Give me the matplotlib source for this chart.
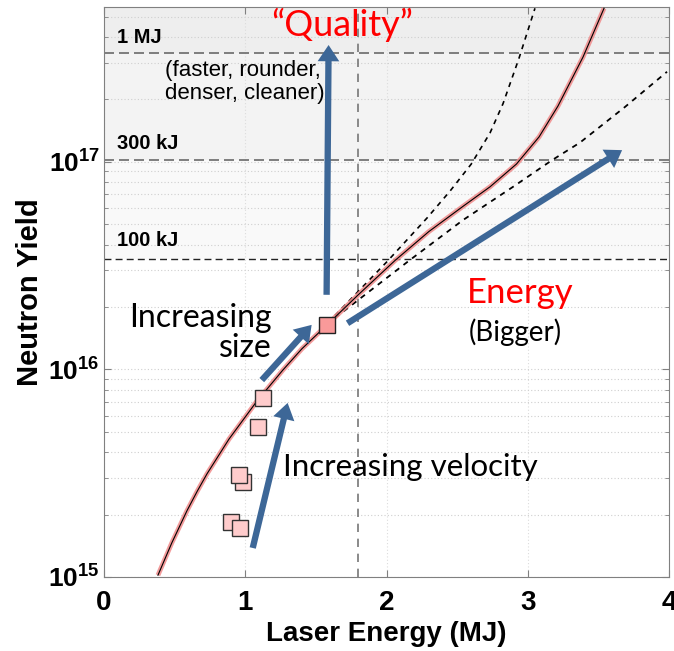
import numpy as np
import matplotlib
matplotlib.use("Agg")
import matplotlib.pyplot as plt
from matplotlib import ticker

plt.rcParams["font.family"] = ["Liberation Sans", "DejaVu Sans"]
plt.rcParams["mathtext.fontset"] = "custom"
plt.rcParams["mathtext.rm"] = "Liberation Sans"
plt.rcParams["mathtext.bf"] = "Liberation Sans:bold"

# model curve (laser energy in MJ, neutron yield)
model_E = [0.382, 0.480, 0.588, 0.660, 0.729, 0.885, 1.080, 1.267, 1.402,
           1.579, 1.800, 2.060, 2.300, 2.550, 2.733, 2.920, 3.080, 3.214,
           3.391, 3.540]
model_Y = [1.02e15, 1.46e15, 2.09e15, 2.59e15, 3.14e15, 4.62e15, 7.00e15,
           9.95e15, 1.26e16, 1.64e16, 2.29e16, 3.35e16, 4.62e16, 6.17e16,
           7.59e16, 9.77e16, 1.32e17, 1.86e17, 3.20e17, 5.50e17]

# quality-improved branch (upper) and energy-only branch (lower)
upper_E = [1.635, 2.004, 2.287, 2.450, 2.600, 2.733, 2.825, 2.938, 3.051]
upper_Y = [1.82e16, 3.31e16, 5.37e16, 7.24e16, 9.77e16, 1.38e17, 1.91e17,
           3.16e17, 5.50e17]
lower_E = [1.635, 2.166, 2.542, 2.896, 3.172, 3.370, 3.688, 3.986]
lower_Y = [1.77e16, 3.37e16, 5.25e16, 7.59e16, 1.02e17, 1.24e17, 1.84e17, 2.72e17]

# experimental shots and the design point
shot_E = [0.898, 0.961, 0.982, 0.954, 1.088, 1.124]
shot_Y = [1.84e15, 1.73e15, 2.87e15, 3.11e15, 5.29e15, 7.30e15]
design_E = [1.579]
design_Y = [1.64e16]

# fusion energy thresholds
levels = [3.4e16, 1.02e17, 3.35e17]
level_labels = ["100 kJ", "300 kJ", "1 MJ"]
level_label_Y = [4.2e16, 1.23e17, 4.0e17]
e_ref = 1.8

xticks = [0, 1, 2, 3, 4]
ymin, ymax = 1e15, 5.58e17

arrow_col = "#3D6797"
calibri = ["Lato", "DejaVu Sans"]

fig = plt.figure(figsize=(6.74, 6.51), dpi=100)
ax = fig.add_axes([104 / 674, 74 / 651, 565 / 674, 570 / 651])
ax.set_yscale("log")
ax.set_xlim(0, 4)
ax.set_ylim(ymin, ymax)

# shaded yield bands
ax.axhspan(levels[2], ymax, color="#eeeeee", zorder=0, lw=0)
ax.axhspan(levels[1], levels[2], color="#f3f3f3", zorder=0, lw=0)
ax.axhspan(levels[0], levels[1], color="#f9f9f9", zorder=0, lw=0)

ax.grid(which="both", axis="y", linestyle=(0, (1, 2)), color="#cfcfcf", lw=0.8, zorder=1)
ax.grid(which="major", axis="x", linestyle=(0, (1, 2)), color="#dcdcdc", lw=0.8, zorder=1)

ax.axvline(e_ref, color="#777777", ls=(0, (5, 4)), lw=1.2, zorder=2)
ax.axhline(levels[2], color="#6a6a6a", ls=(0, (6, 3)), lw=1.2, zorder=2)
ax.axhline(levels[1], color="#6a6a6a", ls=(0, (6, 3)), lw=1.2, zorder=2)
ax.axhline(levels[0], color="#222222", ls=(0, (5, 3)), lw=1.0, zorder=2)

for lab, yl in zip(level_labels, level_label_Y):
    ax.text(0.092, yl, lab, fontsize=14.5, fontweight="bold", va="center", ha="left")

# curves
ax.plot(upper_E, upper_Y, color="k", ls=(0, (3, 3)), lw=1.2, zorder=3)
ax.plot(lower_E, lower_Y, color="k", ls=(0, (3, 3)), lw=1.3, zorder=3)
ax.plot(model_E, model_Y, color="#f08a8a", lw=3.5, alpha=0.85, zorder=3,
        solid_capstyle="butt", solid_joinstyle="round")
ax.plot(model_E, model_Y, color="k", lw=0.8, zorder=4, solid_joinstyle="round")

ax.plot(shot_E, shot_Y, "s", ms=12, mfc="#ffcccc", mec="#333333", mew=1.0, zorder=5)
ax.plot(design_E, design_Y, "s", ms=12, mfc="#f99a9a", mec="#222222", mew=1.0, zorder=5)

# arrows
arrows = [((1.576, 2.29e16), (1.590, 3.66e17)),
          ((1.724, 1.67e16), (3.668, 1.14e17)),
          ((1.117, 8.89e15), (1.470, 1.64e16)),
          ((1.053, 1.38e15), (1.300, 6.90e15))]
for tail, tip in arrows:
    ax.annotate("", xy=tip, xytext=tail,
                arrowprops=dict(arrowstyle="simple,head_length=0.9,head_width=1.2,tail_width=0.35",
                                mutation_scale=13, color=arrow_col, lw=0,
                                shrinkA=0, shrinkB=0),
                zorder=6)

ax.text(1.685, 4.6e17, "\u201cQuality\u201d", color="red", fontsize=26,
        family=calibri, ha="center", va="center")
ax.text(0.432, 3.1e17, "(faster, rounder,\ndenser, cleaner)", fontsize=16,
        ha="left", va="top", linespacing=1.1)
ax.text(1.19, 1.5e16, "Increasing\nsize", fontsize=23, family=calibri,
        ha="right", va="center", multialignment="right", linespacing=1.0)
ax.text(2.95, 2.34e16, "Energy", color="red", fontsize=25, family=calibri,
        ha="center", va="center")
ax.text(2.91, 1.51e16, "(Bigger)", fontsize=20, family=calibri,
        ha="center", va="center")
ax.text(1.267, 3.39e15, "Increasing velocity", fontsize=22.5, family=calibri,
        ha="left", va="center")

# axes styling
ax.set_xticks(xticks)
ax.xaxis.set_major_formatter(ticker.FormatStrFormatter("%d"))
ax.yaxis.set_major_formatter(ticker.FuncFormatter(
    lambda v, _: r"$\mathbf{10^{%d}}$" % round(np.log10(v))))
ax.yaxis.set_minor_formatter(ticker.NullFormatter())
ax.tick_params(which="both", direction="in", top=True, right=True, color="#808080")
ax.tick_params(which="major", length=5)
ax.tick_params(which="minor", length=3)
ax.tick_params(axis="x", which="major", labelsize=20, pad=9)
ax.tick_params(axis="y", which="major", labelsize=19, pad=3)
for lab in ax.get_xticklabels():
    lab.set_fontweight("bold")
for sp in ax.spines.values():
    sp.set_color("#808080")

ax.set_xlabel("Laser Energy (MJ)", fontsize=20, fontweight="bold", labelpad=4)
ax.set_ylabel("Neutron Yield", fontsize=21, fontweight="bold", labelpad=3)

fig.savefig("out.png", dpi=100)
